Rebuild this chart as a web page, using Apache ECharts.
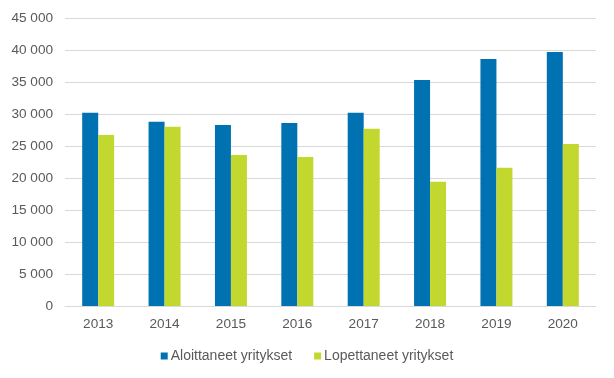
<!DOCTYPE html>
<html><head><meta charset="utf-8">
<script src="https://cdn.jsdelivr.net/npm/echarts@6/dist/echarts.min.js"></script>
<style>html,body{margin:0;padding:0;background:#fff}#c{width:614px;height:378px}</style>
</head><body><div id="c"></div>
<script>
const categories = ['2013','2014','2015','2016','2017','2018','2019','2020'];
const aloittaneet = [30200, 28800, 28300, 28600, 30200, 35300, 38600, 39700];
const lopettaneet = [26700, 28000, 23600, 23300, 27700, 19400, 21600, 25300];
const seriesNames = ['Aloittaneet yritykset', 'Lopettaneet yritykset'];
const font = '"Liberation Sans", Arial, sans-serif';
const chart = echarts.init(document.getElementById('c'));
chart.setOption({
  animation: false,
  grid: {left: 65, right: 18, top: 18, bottom: 72, containLabel: false},
  legend: {
    bottom: 10, left: 'center', itemWidth: 7, itemHeight: 7, itemGap: 22,
    icon: 'rect',
    textStyle: {color: '#595959', fontSize: 14, fontFamily: font, padding: [0,0,0,-2]},
    data: seriesNames
  },
  xAxis: {
    type: 'category', data: categories,
    axisLine: {lineStyle: {color: '#d9d9d9', width: 1}},
    axisTick: {show: false},
    axisLabel: {color: '#595959', fontSize: 13.6, fontFamily: font, margin: 11}
  },
  yAxis: {
    type: 'value', min: 0, max: 45000, interval: 5000,
    axisLine: {show: false}, axisTick: {show: false},
    splitLine: {lineStyle: {color: '#d9d9d9', width: 1}},
    axisLabel: {color: '#595959', fontSize: 13.6, fontFamily: font, margin: 12,
      formatter: v => v === 0 ? '0' : String(v).replace(/\B(?=(\d{3})+(?!\d))/g, ' ')}
  },
  series: [
    {name: seriesNames[0], type: 'bar', data: aloittaneet, barWidth: 16, barGap: '0%',
      itemStyle: {color: '#0072B1'}},
    {name: seriesNames[1], type: 'bar', data: lopettaneet, barWidth: 16, barGap: '0%',
      itemStyle: {color: '#C3D82F'}}
  ]
});
</script></body></html>
